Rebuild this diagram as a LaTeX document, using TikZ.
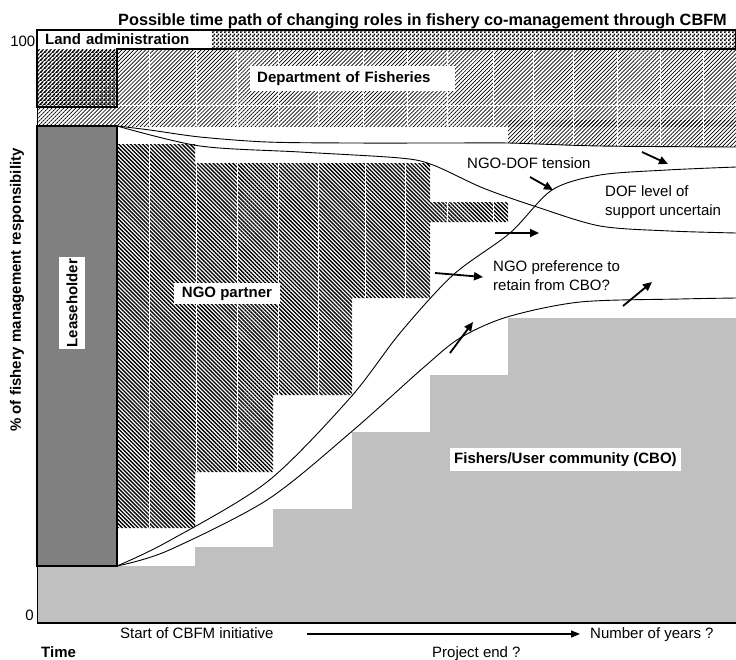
\documentclass[tikz,border=0pt]{standalone}
\usepackage{fontspec}
\setmainfont{Liberation Sans}
\usetikzlibrary{arrows.meta, patterns, patterns.meta, positioning}
\definecolor{cbogray}{HTML}{C0C0C0}
\definecolor{leasegray}{HTML}{808080}
\pgfdeclarepatternformonly{finecheck}{\pgfpointorigin}{\pgfqpoint{3.6pt}{3.6pt}}{\pgfqpoint{3.6pt}{3.6pt}}{%
	\pgfpathrectangle{\pgfpointorigin}{\pgfqpoint{1.8pt}{1.8pt}}%
	\pgfpathrectangle{\pgfqpoint{1.8pt}{1.8pt}}{\pgfqpoint{1.8pt}{1.8pt}}%
	\pgfusepath{fill}}
\tikzstyle{lbl} = [font=\fontsize{15}{19}\selectfont, inner sep=0pt]
\tikzstyle{boldlbl} = [font=\fontsize{15}{19}\selectfont\bfseries, inner sep=0pt, fill=white]
\tikzstyle{dofhatch} = [pattern={Lines[angle=45,distance=2.8pt,line width=0.7pt]}]
\tikzstyle{ngohatch} = [pattern={Lines[angle=-45,distance=2.8pt,line width=1.35pt]}]
\tikzstyle{landcheck} = [pattern=finecheck]
\tikzstyle{pathline} = [line width=0.9pt]
\tikzstyle{pointer} = [line width=1.8pt, -{Triangle[length=9pt,width=8pt]}]
\tikzstyle{timearrow} = [line width=1.3pt, -{Triangle[length=9pt,width=7pt]}]
\newcommand{\ngoshape}{(117,528) -- (117,144) -- (195,144) -- (195,163) -- (430,163) -- (430,298) -- (352,298) -- (352,395) -- (273,395) -- (273,472) -- (195,472) -- (195,528) -- cycle (430,202) rectangle (508,222)}
\newcommand{\dofedge}{plot[smooth] coordinates {(117,126) (150,130) (200,137) (267,142) (350,143) (450,143) (508,143) (600,146) (736,147)}}
\newcommand{\supportedge}{plot[smooth] coordinates {(117,126) (200,146) (300,152) (400,158) (433,165) (483,188) (537,207) (600,226) (670,231) (736,233)}}
\newcommand{\ngoedge}{plot[smooth] coordinates {(117,566) (167,542) (267,482) (350,398) (400,333) (453,275) (510,233) (552,190) (600,175) (667,170) (736,167)}}
\newcommand{\cboedge}{plot[smooth] coordinates {(117,566) (167,551) (267,500) (350,433) (423,368) (460,338) (507,317) (580,302) (680,299) (736,298)}}

\begin{document}
\begin{tikzpicture}[x=1pt, y=-1pt]
	\useasboundingbox (0,0) rectangle (736,659);
	\coordinate (origin) at (37,623);
	\coordinate (top) at (37,30);
	\coordinate (xend) at (736,623);
	\fill[cbogray] (37,623) -- (37,566) -- (195,566) -- (195,547) -- (273,547) -- (273,509) -- (352,509) -- (352,432) -- (430,432) -- (430,375) -- (508,375) -- (508,318) -- (736,318) -- (736,623) -- cycle;
	\fill[ngohatch] \ngoshape;
	\begin{scope}
		\clip \ngoshape;
		\foreach \x in {149,196,237,278,318,365,405,447,493}
			\draw[white, line width=1pt] (\x,100) -- (\x,600);
	\end{scope}
	\fill[dofhatch] (37,49) rectangle (736,126);
	\begin{scope}
		\clip \dofedge -- (736,49) -- (117,49) -- cycle;
		\fill[dofhatch] (508,120) rectangle (736,160);
	\end{scope}
	\begin{scope}
		\clip (37,49) rectangle (736,126) (508,120) rectangle (736,150);
		\foreach \x in {149,196,237,278,318,363,407,447,493,533,573,617,660,703}
			\draw[white, line width=1pt] (\x,40) -- (\x,160);
		\draw[white, line width=1pt] (117,105) -- (736,105);
	\end{scope}
	\fill[landcheck] (37,30) -- (736,30) -- (736,49) -- (117,49) -- (117,107) -- (37,107) -- cycle;
	\node[boldlbl, text width=159pt, inner xsep=8pt, minimum height=19pt, anchor=west] (land) at (37,39.5) {Land administration};
	\draw[line width=1.8pt] (37,30) -- (736,30) -- (736,49) -- (117,49) -- (117,107) -- (37,107) -- cycle;
	\node[boldlbl, text width=191pt, inner xsep=7pt, minimum height=25pt, anchor=west] (dof) at (250,78.5) {Department of Fisheries};
	\draw[fill=leasegray, line width=1.8pt] (37,126) rectangle (117,566);
	\node[boldlbl, rotate=90, inner xsep=2pt, inner ysep=7pt] (lease) at (72,303) {Leaseholder};
	\draw[pathline] \dofedge;
	\draw[pathline] \supportedge;
	\draw[pathline] \ngoedge;
	\draw[pathline] \cboedge;
	\node[boldlbl, inner xsep=8pt, minimum height=21pt] (ngo) at (227,293.5) {NGO partner};
	\node[boldlbl, inner xsep=4pt, minimum height=23pt, anchor=west] (cbo) at (450,459.5) {Fishers/User community (CBO)};
	\node[lbl, anchor=west] (tension) at (467,163) {NGO-DOF tension};
	\node[lbl, anchor=west, align=left] (support) at (605,202) {DOF level of\\support uncertain};
	\node[lbl, anchor=west, align=left] (retain) at (493,276) {NGO preference to\\retain from CBO?};
	\foreach \n/\s/\e in {dofgap/{642,152}/{668,164}, clash/{530,177}/{553,190}, drift/{495,233}/{539,233}, pref/{435,273}/{483,277}, rise/{623,306}/{652,282}, grow/{450,353}/{473,322}} {
		\coordinate (\n-tail) at (\s);
		\coordinate (\n-head) at (\e);
		\draw[pointer] (\n-tail) -- (\n-head);
	}
	\draw[line width=1pt] (origin) -- (top);
	\draw[line width=2pt] (origin) -- (xend);
	\node[lbl, anchor=east] (hundred) at (35.5,41) {100};
	\node[lbl, anchor=east] (zero) at (34,615) {0};
	\node[lbl, font=\fontsize{15}{19}\selectfont\bfseries, rotate=90] (yaxis) at (17,290) {\% of fishery management responsibility};
	\node[lbl, font=\fontsize{16.3}{19}\selectfont\bfseries, anchor=base] (title) at (422.5,25) {Possible time path of changing roles in fishery co-management through CBFM};
	\node[lbl, anchor=base west] (start) at (120,638) {Start of CBFM initiative};
	\node[lbl, anchor=base west] (years) at (590,638) {Number of years ?};
	\node[lbl, font=\fontsize{15}{19}\selectfont\bfseries, anchor=base west] (time) at (41,657) {Time};
	\node[lbl, anchor=base west] (projectend) at (432,657) {Project end ?};
	\draw[timearrow] ([xshift=33pt]start.east |- 0,634) -- ([xshift=-10pt]years.west |- 0,634);
\end{tikzpicture}
\end{document}
